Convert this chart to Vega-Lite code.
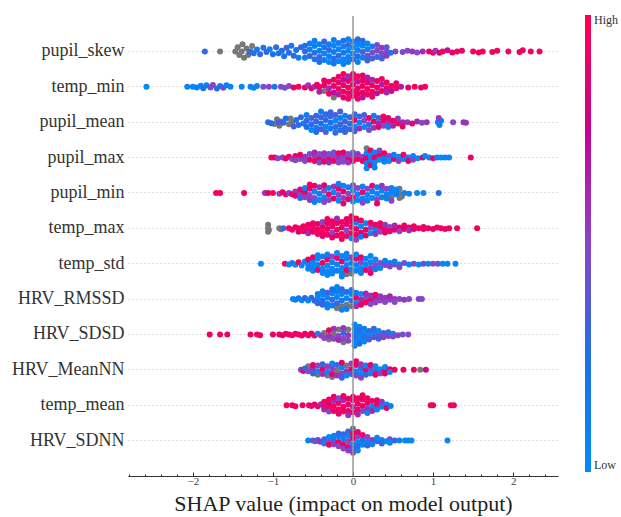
{
"$schema":"https://vega.github.io/schema/vega-lite/v6.json",
"width":430,"height":460,
"autosize":{"type":"none"},
"padding":{"left":128,"top":16,"right":63,"bottom":41},
"config":{"view":{"stroke":null},"font":"Liberation Serif","axisX":{"labelOverlap":false,"labelBound":false,"labelFlush":false}},
"data":{"values":[
{"f":"pupil_skew","x":-1.85,"j":0,"c":0.3},{"f":"pupil_skew","x":-1.66,"j":0,"c":null},
{"f":"pupil_skew","x":-1.47,"j":0,"c":null},{"f":"pupil_skew","x":-1.44,"j":-0.12,"c":null},{"f":"pupil_skew","x":-1.42,"j":0.1,"c":null},{"f":"pupil_skew","x":-1.39,"j":0,"c":null},{"f":"pupil_skew","x":-1.38,"j":-0.2,"c":null},{"f":"pupil_skew","x":-1.36,"j":0.18,"c":null},{"f":"pupil_skew","x":-1.33,"j":-0.08,"c":null},{"f":"pupil_skew","x":-1.31,"j":0.1,"c":null},{"f":"pupil_skew","x":-1.28,"j":0,"c":null},{"f":"pupil_skew","x":-1.26,"j":-0.15,"c":null},
{"f":"pupil_skew","x":-1.29,"j":0.02,"c":0.3},{"f":"pupil_skew","x":-1.24,"j":0.05,"c":0.25},{"f":"pupil_skew","x":-1.2,"j":-0.05,"c":0.2},{"f":"pupil_skew","x":-1.16,"j":0.08,"c":0.28},{"f":"pupil_skew","x":-1.12,"j":-0.1,"c":0.22},{"f":"pupil_skew","x":-1.08,"j":0.02,"c":0.3},{"f":"pupil_skew","x":-1.04,"j":-0.06,"c":0.1},{"f":"pupil_skew","x":-1.0,"j":0.08,"c":0.25},{"f":"pupil_skew","x":-0.96,"j":-0.12,"c":0.3},{"f":"pupil_skew","x":-0.93,"j":0.05,"c":0.18},{"f":"pupil_skew","x":-0.89,"j":-0.02,"c":0.27},{"f":"pupil_skew","x":-0.86,"j":0.14,"c":0.2},{"f":"pupil_skew","x":-0.83,"j":-0.1,"c":0.35},{"f":"pupil_skew","x":-0.8,"j":0.04,"c":0.24},{"f":"pupil_skew","x":-0.77,"j":-0.16,"c":0.15},{"f":"pupil_skew","x":-0.74,"j":0.12,"c":0.3},{"f":"pupil_skew","x":-0.71,"j":-0.04,"c":0.22},{"f":"pupil_skew","x":-0.68,"j":0.18,"c":0.12},{"f":"pupil_skew","x":-0.65,"j":-0.12,"c":0.32},
{"f":"pupil_skew","x":-0.6,"j":0,"c":0.3},{"f":"pupil_skew","x":-0.6,"j":0.18,"c":0.1},{"f":"pupil_skew","x":-0.6,"j":-0.16,"c":0.25},
{"f":"pupil_skew","x":-0.54,"j":-0.05,"c":0.08},{"f":"pupil_skew","x":-0.54,"j":0.13,"c":0.3},{"f":"pupil_skew","x":-0.54,"j":-0.22,"c":0.15},
{"f":"pupil_skew","x":-0.48,"j":0.04,"c":0.28},{"f":"pupil_skew","x":-0.48,"j":-0.15,"c":0.05},{"f":"pupil_skew","x":-0.48,"j":0.22,"c":0.2},{"f":"pupil_skew","x":-0.48,"j":-0.3,"c":0.12},
{"f":"pupil_skew","x":-0.42,"j":-0.02,"c":0.1},{"f":"pupil_skew","x":-0.42,"j":0.16,"c":0.32},{"f":"pupil_skew","x":-0.42,"j":-0.2,"c":0.08},{"f":"pupil_skew","x":-0.42,"j":0.3,"c":0.25},
{"f":"pupil_skew","x":-0.36,"j":0.06,"c":0.05},{"f":"pupil_skew","x":-0.36,"j":-0.12,"c":0.22},{"f":"pupil_skew","x":-0.36,"j":0.24,"c":0.12},{"f":"pupil_skew","x":-0.36,"j":-0.28,"c":0.3},
{"f":"pupil_skew","x":-0.3,"j":-0.04,"c":0.3},{"f":"pupil_skew","x":-0.3,"j":0.14,"c":0.08},{"f":"pupil_skew","x":-0.3,"j":-0.2,"c":0.15},{"f":"pupil_skew","x":-0.3,"j":0.3,"c":0.06},
{"f":"pupil_skew","x":-0.24,"j":0.02,"c":0.12},{"f":"pupil_skew","x":-0.24,"j":-0.16,"c":0.05},{"f":"pupil_skew","x":-0.24,"j":0.2,"c":0.28},{"f":"pupil_skew","x":-0.24,"j":-0.32,"c":0.1},{"f":"pupil_skew","x":-0.24,"j":0.34,"c":0.2},
{"f":"pupil_skew","x":-0.18,"j":-0.06,"c":0.07},{"f":"pupil_skew","x":-0.18,"j":0.12,"c":0.3},{"f":"pupil_skew","x":-0.18,"j":-0.24,"c":0.15},{"f":"pupil_skew","x":-0.18,"j":0.28,"c":0.05},
{"f":"pupil_skew","x":-0.12,"j":0.04,"c":0.2},{"f":"pupil_skew","x":-0.12,"j":-0.14,"c":0.1},{"f":"pupil_skew","x":-0.12,"j":0.22,"c":0.05},{"f":"pupil_skew","x":-0.12,"j":-0.3,"c":0.25},{"f":"pupil_skew","x":-0.12,"j":0.36,"c":0.08},
{"f":"pupil_skew","x":-0.06,"j":-0.02,"c":0.05},{"f":"pupil_skew","x":-0.06,"j":0.16,"c":0.15},{"f":"pupil_skew","x":-0.06,"j":-0.18,"c":0.3},{"f":"pupil_skew","x":-0.06,"j":0.3,"c":0.1},{"f":"pupil_skew","x":-0.06,"j":-0.34,"c":0.06},
{"f":"pupil_skew","x":0,"j":0.06,"c":0.1},{"f":"pupil_skew","x":0,"j":-0.12,"c":0.04},{"f":"pupil_skew","x":0,"j":0.22,"c":0.28},{"f":"pupil_skew","x":0,"j":-0.28,"c":0.12},
{"f":"pupil_skew","x":0.06,"j":-0.04,"c":0.08},{"f":"pupil_skew","x":0.06,"j":0.14,"c":0.22},{"f":"pupil_skew","x":0.06,"j":-0.2,"c":0.05},{"f":"pupil_skew","x":0.06,"j":0.3,"c":0.15},{"f":"pupil_skew","x":0.06,"j":-0.34,"c":0.3},
{"f":"pupil_skew","x":0.12,"j":0.02,"c":0.35},{"f":"pupil_skew","x":0.12,"j":-0.16,"c":0.06},{"f":"pupil_skew","x":0.12,"j":0.18,"c":0.12},{"f":"pupil_skew","x":0.12,"j":-0.3,"c":0.25},
{"f":"pupil_skew","x":0.18,"j":-0.06,"c":0.1},{"f":"pupil_skew","x":0.18,"j":0.12,"c":0.4},{"f":"pupil_skew","x":0.18,"j":-0.22,"c":0.05},{"f":"pupil_skew","x":0.18,"j":0.26,"c":0.3},
{"f":"pupil_skew","x":0.24,"j":0.04,"c":0.45},{"f":"pupil_skew","x":0.24,"j":-0.14,"c":0.15},{"f":"pupil_skew","x":0.24,"j":0.2,"c":0.38},
{"f":"pupil_skew","x":0.3,"j":-0.02,"c":0.5},{"f":"pupil_skew","x":0.3,"j":0.16,"c":0.3},{"f":"pupil_skew","x":0.3,"j":-0.18,"c":0.42},
{"f":"pupil_skew","x":0.36,"j":0.06,"c":0.45},{"f":"pupil_skew","x":0.36,"j":-0.1,"c":0.55},{"f":"pupil_skew","x":0.36,"j":0.2,"c":0.35},
{"f":"pupil_skew","x":0.42,"j":0,"c":0.5},{"f":"pupil_skew","x":0.42,"j":-0.12,"c":0.4},{"f":"pupil_skew","x":0.42,"j":0.12,"c":0.55},{"f":"pupil_skew","x":0.47,"j":0.04,"c":0.2},
{"f":"pupil_skew","x":0.53,"j":0,"c":0.5},{"f":"pupil_skew","x":0.62,"j":0.02,"c":0.45},{"f":"pupil_skew","x":0.68,"j":-0.02,"c":0.5},{"f":"pupil_skew","x":0.74,"j":0,"c":0.55},{"f":"pupil_skew","x":0.8,"j":0.03,"c":0.5},{"f":"pupil_skew","x":0.87,"j":0,"c":0.6},{"f":"pupil_skew","x":0.95,"j":0,"c":0.9},{"f":"pupil_skew","x":1.0,"j":0.04,"c":0.92},{"f":"pupil_skew","x":1.03,"j":-0.02,"c":0.55},{"f":"pupil_skew","x":1.08,"j":0.04,"c":0.85},{"f":"pupil_skew","x":1.12,"j":0,"c":0.95},{"f":"pupil_skew","x":1.18,"j":-0.03,"c":0.7},{"f":"pupil_skew","x":1.24,"j":0.03,"c":0.9},{"f":"pupil_skew","x":1.3,"j":0,"c":0.95},{"f":"pupil_skew","x":1.36,"j":-0.02,"c":0.88},{"f":"pupil_skew","x":1.5,"j":0,"c":0.95},{"f":"pupil_skew","x":1.57,"j":0.03,"c":0.9},{"f":"pupil_skew","x":1.62,"j":0,"c":0.95},{"f":"pupil_skew","x":1.74,"j":0.02,"c":0.92},{"f":"pupil_skew","x":1.8,"j":-0.02,"c":0.95},{"f":"pupil_skew","x":1.94,"j":0,"c":0.95},{"f":"pupil_skew","x":2.08,"j":0.02,"c":0.95},{"f":"pupil_skew","x":2.12,"j":-0.03,"c":0.92},{"f":"pupil_skew","x":2.22,"j":0,"c":0.95},{"f":"pupil_skew","x":2.33,"j":0,"c":0.95},

{"f":"temp_min","x":-2.58,"j":0,"c":0.02},
{"f":"temp_min","x":-2.07,"j":0,"c":0.05},{"f":"temp_min","x":-2.0,"j":0,"c":0.08},{"f":"temp_min","x":-1.95,"j":0.02,"c":0.1},{"f":"temp_min","x":-1.9,"j":-0.03,"c":0.05},{"f":"temp_min","x":-1.87,"j":0.04,"c":0.2},{"f":"temp_min","x":-1.83,"j":-0.04,"c":0.1},{"f":"temp_min","x":-1.78,"j":0.02,"c":0.45},{"f":"temp_min","x":-1.75,"j":-0.05,"c":0.5},{"f":"temp_min","x":-1.7,"j":0.05,"c":0.3},{"f":"temp_min","x":-1.66,"j":-0.02,"c":0.15},{"f":"temp_min","x":-1.62,"j":0.03,"c":0.45},{"f":"temp_min","x":-1.58,"j":-0.04,"c":0.1},{"f":"temp_min","x":-1.53,"j":0,"c":0.05},
{"f":"temp_min","x":-1.39,"j":0,"c":0.05},{"f":"temp_min","x":-1.28,"j":0,"c":0.1},{"f":"temp_min","x":-1.24,"j":0.03,"c":0.05},{"f":"temp_min","x":-1.2,"j":-0.02,"c":0.1},{"f":"temp_min","x":-1.12,"j":0,"c":0.45},{"f":"temp_min","x":-1.05,"j":0,"c":0.5},{"f":"temp_min","x":-0.98,"j":0,"c":0.2},{"f":"temp_min","x":-0.9,"j":0,"c":0.5},{"f":"temp_min","x":-0.85,"j":0.03,"c":0.45},{"f":"temp_min","x":-0.8,"j":-0.02,"c":0.5},{"f":"temp_min","x":-0.74,"j":0.02,"c":0.9},{"f":"temp_min","x":-0.68,"j":0,"c":0.95},
{"f":"temp_min","x":-0.6,"j":0.02,"c":0.9},{"f":"temp_min","x":-0.56,"j":-0.04,"c":0.55},{"f":"temp_min","x":-0.52,"j":0.04,"c":0.92},{"f":"temp_min","x":-0.48,"j":0,"c":0.6},{"f":"temp_min","x":-0.45,"j":-0.06,"c":0.95},
{"f":"temp_min","x":-0.42,"j":0,"c":0.9},{"f":"temp_min","x":-0.42,"j":0.14,"c":0.65},
{"f":"temp_min","x":-0.36,"j":-0.04,"c":0.95},{"f":"temp_min","x":-0.36,"j":0.12,"c":null},{"f":"temp_min","x":-0.36,"j":-0.18,"c":0.9},
{"f":"temp_min","x":-0.3,"j":0.04,"c":0.6},{"f":"temp_min","x":-0.3,"j":-0.14,"c":0.92},{"f":"temp_min","x":-0.3,"j":0.2,"c":0.95},
{"f":"temp_min","x":-0.24,"j":-0.02,"c":0.9},{"f":"temp_min","x":-0.24,"j":0.16,"c":0.7},{"f":"temp_min","x":-0.24,"j":-0.2,"c":0.95},{"f":"temp_min","x":-0.24,"j":0.3,"c":null},
{"f":"temp_min","x":-0.18,"j":0.06,"c":0.95},{"f":"temp_min","x":-0.18,"j":-0.12,"c":0.88},{"f":"temp_min","x":-0.18,"j":0.22,"c":0.65},{"f":"temp_min","x":-0.18,"j":-0.28,"c":0.92},
{"f":"temp_min","x":-0.12,"j":-0.04,"c":0.92},{"f":"temp_min","x":-0.12,"j":0.14,"c":0.95},{"f":"temp_min","x":-0.12,"j":-0.2,"c":0.7},{"f":"temp_min","x":-0.12,"j":0.3,"c":0.9},{"f":"temp_min","x":-0.12,"j":-0.36,"c":0.95},
{"f":"temp_min","x":-0.06,"j":0.02,"c":0.95},{"f":"temp_min","x":-0.06,"j":-0.16,"c":0.9},{"f":"temp_min","x":-0.06,"j":0.18,"c":0.92},{"f":"temp_min","x":-0.06,"j":-0.3,"c":0.6},{"f":"temp_min","x":-0.06,"j":0.34,"c":0.95},
{"f":"temp_min","x":0,"j":-0.06,"c":0.9},{"f":"temp_min","x":0,"j":0.12,"c":0.95},{"f":"temp_min","x":0,"j":-0.22,"c":0.92},{"f":"temp_min","x":0,"j":0.26,"c":0.88},{"f":"temp_min","x":0,"j":-0.36,"c":0.95},
{"f":"temp_min","x":0.06,"j":0.04,"c":0.95},{"f":"temp_min","x":0.06,"j":-0.14,"c":0.65},{"f":"temp_min","x":0.06,"j":0.2,"c":0.9},{"f":"temp_min","x":0.06,"j":-0.3,"c":0.95},{"f":"temp_min","x":0.06,"j":0.34,"c":0.92},
{"f":"temp_min","x":0.12,"j":-0.02,"c":0.92},{"f":"temp_min","x":0.12,"j":0.16,"c":0.9},{"f":"temp_min","x":0.12,"j":-0.18,"c":0.95},{"f":"temp_min","x":0.12,"j":0.3,"c":0.7},{"f":"temp_min","x":0.12,"j":-0.32,"c":0.9},
{"f":"temp_min","x":0.18,"j":0.06,"c":0.95},{"f":"temp_min","x":0.18,"j":-0.12,"c":0.88},{"f":"temp_min","x":0.18,"j":0.22,"c":0.92},{"f":"temp_min","x":0.18,"j":-0.26,"c":0.65},
{"f":"temp_min","x":0.24,"j":-0.04,"c":0.9},{"f":"temp_min","x":0.24,"j":0.14,"c":0.95},{"f":"temp_min","x":0.24,"j":-0.2,"c":0.6},{"f":"temp_min","x":0.24,"j":0.28,"c":0.92},
{"f":"temp_min","x":0.3,"j":0.02,"c":0.95},{"f":"temp_min","x":0.3,"j":-0.16,"c":0.9},{"f":"temp_min","x":0.3,"j":0.18,"c":0.7},
{"f":"temp_min","x":0.36,"j":-0.06,"c":0.65},{"f":"temp_min","x":0.36,"j":0.12,"c":0.92},{"f":"temp_min","x":0.36,"j":-0.22,"c":0.95},
{"f":"temp_min","x":0.42,"j":0.04,"c":0.9},{"f":"temp_min","x":0.42,"j":-0.12,"c":0.95},{"f":"temp_min","x":0.42,"j":0.16,"c":0.6},
{"f":"temp_min","x":0.48,"j":-0.02,"c":0.92},{"f":"temp_min","x":0.48,"j":0.12,"c":0.7},{"f":"temp_min","x":0.54,"j":0.04,"c":0.95},{"f":"temp_min","x":0.54,"j":-0.1,"c":0.9},{"f":"temp_min","x":0.6,"j":0,"c":0.65},
{"f":"temp_min","x":0.69,"j":0.02,"c":0.9},{"f":"temp_min","x":0.77,"j":0,"c":0.95},{"f":"temp_min","x":0.85,"j":0.02,"c":0.9},{"f":"temp_min","x":0.9,"j":0,"c":0.95},

{"f":"pupil_mean","x":-1.06,"j":0,"c":0.3},{"f":"pupil_mean","x":-1.02,"j":0.03,"c":0.25},
{"f":"pupil_mean","x":-0.98,"j":0.05,"c":null},{"f":"pupil_mean","x":-0.95,"j":-0.08,"c":null},{"f":"pupil_mean","x":-0.92,"j":0.1,"c":null},{"f":"pupil_mean","x":-0.9,"j":-0.02,"c":null},{"f":"pupil_mean","x":-0.8,"j":0.06,"c":null},{"f":"pupil_mean","x":-0.78,"j":-0.1,"c":null},{"f":"pupil_mean","x":-0.76,"j":0.02,"c":null},
{"f":"pupil_mean","x":-0.93,"j":0,"c":0.35},{"f":"pupil_mean","x":-0.87,"j":0.02,"c":0.3},{"f":"pupil_mean","x":-0.84,"j":-0.1,"c":0.25},{"f":"pupil_mean","x":-0.74,"j":0.12,"c":0.3},{"f":"pupil_mean","x":-0.71,"j":-0.06,"c":0.2},{"f":"pupil_mean","x":-0.68,"j":0.08,"c":0.32},{"f":"pupil_mean","x":-0.65,"j":-0.14,"c":0.28},{"f":"pupil_mean","x":-0.62,"j":0.04,"c":0.1},
{"f":"pupil_mean","x":-0.58,"j":-0.04,"c":0.3},{"f":"pupil_mean","x":-0.58,"j":0.14,"c":0.25},{"f":"pupil_mean","x":-0.58,"j":-0.2,"c":0.1},
{"f":"pupil_mean","x":-0.52,"j":0.06,"c":0.28},{"f":"pupil_mean","x":-0.52,"j":-0.12,"c":0.35},{"f":"pupil_mean","x":-0.52,"j":0.22,"c":0.05},
{"f":"pupil_mean","x":-0.46,"j":-0.02,"c":0.32},{"f":"pupil_mean","x":-0.46,"j":0.16,"c":0.1},{"f":"pupil_mean","x":-0.46,"j":-0.18,"c":0.3},{"f":"pupil_mean","x":-0.46,"j":0.28,"c":0.25},
{"f":"pupil_mean","x":-0.4,"j":0.04,"c":0.22},{"f":"pupil_mean","x":-0.4,"j":-0.14,"c":0.3},{"f":"pupil_mean","x":-0.4,"j":0.2,"c":0.35},{"f":"pupil_mean","x":-0.4,"j":-0.3,"c":0.08},
{"f":"pupil_mean","x":-0.34,"j":-0.06,"c":0.3},{"f":"pupil_mean","x":-0.34,"j":0.12,"c":0.05},{"f":"pupil_mean","x":-0.34,"j":-0.22,"c":0.28},{"f":"pupil_mean","x":-0.34,"j":0.28,"c":0.35},
{"f":"pupil_mean","x":-0.28,"j":0.02,"c":0.25},{"f":"pupil_mean","x":-0.28,"j":-0.16,"c":0.32},{"f":"pupil_mean","x":-0.28,"j":0.18,"c":0.1},{"f":"pupil_mean","x":-0.28,"j":-0.28,"c":0.3},
{"f":"pupil_mean","x":-0.22,"j":-0.04,"c":0.05},{"f":"pupil_mean","x":-0.22,"j":0.14,"c":0.3},{"f":"pupil_mean","x":-0.22,"j":-0.2,"c":0.35},{"f":"pupil_mean","x":-0.22,"j":0.3,"c":0.28},
{"f":"pupil_mean","x":-0.16,"j":0.06,"c":0.3},{"f":"pupil_mean","x":-0.16,"j":-0.12,"c":0.1},{"f":"pupil_mean","x":-0.16,"j":0.22,"c":0.25},{"f":"pupil_mean","x":-0.16,"j":-0.3,"c":0.35},
{"f":"pupil_mean","x":-0.1,"j":-0.02,"c":0.35},{"f":"pupil_mean","x":-0.1,"j":0.16,"c":0.28},{"f":"pupil_mean","x":-0.1,"j":-0.18,"c":0.05},{"f":"pupil_mean","x":-0.1,"j":0.28,"c":0.3},
{"f":"pupil_mean","x":-0.04,"j":0.04,"c":0.2},{"f":"pupil_mean","x":-0.04,"j":-0.14,"c":0.32},{"f":"pupil_mean","x":-0.04,"j":0.2,"c":0.3},
{"f":"pupil_mean","x":0.02,"j":-0.06,"c":0.9},{"f":"pupil_mean","x":0.02,"j":0.12,"c":0.05},{"f":"pupil_mean","x":0.02,"j":-0.22,"c":0.3},{"f":"pupil_mean","x":0.02,"j":0.26,"c":0.35},
{"f":"pupil_mean","x":0.08,"j":0.02,"c":0.1},{"f":"pupil_mean","x":0.08,"j":-0.16,"c":0.3},{"f":"pupil_mean","x":0.08,"j":0.18,"c":0.6},
{"f":"pupil_mean","x":0.14,"j":-0.04,"c":0.5},{"f":"pupil_mean","x":0.14,"j":0.14,"c":0.05},{"f":"pupil_mean","x":0.14,"j":-0.2,"c":0.35},
{"f":"pupil_mean","x":0.2,"j":0.06,"c":0.3},{"f":"pupil_mean","x":0.2,"j":-0.12,"c":0.9},{"f":"pupil_mean","x":0.2,"j":0.22,"c":0.45},
{"f":"pupil_mean","x":0.26,"j":-0.02,"c":0.92},{"f":"pupil_mean","x":0.26,"j":0.16,"c":0.55},{"f":"pupil_mean","x":0.26,"j":-0.18,"c":0.1},
{"f":"pupil_mean","x":0.32,"j":0.04,"c":0.6},{"f":"pupil_mean","x":0.32,"j":-0.12,"c":0.3},{"f":"pupil_mean","x":0.32,"j":0.14,"c":0.9},
{"f":"pupil_mean","x":0.38,"j":-0.04,"c":0.9},{"f":"pupil_mean","x":0.38,"j":0.1,"c":0.5},{"f":"pupil_mean","x":0.38,"j":-0.16,"c":0.95},
{"f":"pupil_mean","x":0.44,"j":0.02,"c":0.55},{"f":"pupil_mean","x":0.44,"j":-0.12,"c":0.92},{"f":"pupil_mean","x":0.44,"j":0.14,"c":0.1},
{"f":"pupil_mean","x":0.5,"j":-0.04,"c":0.9},{"f":"pupil_mean","x":0.5,"j":0.1,"c":0.6},{"f":"pupil_mean","x":0.56,"j":0.04,"c":0.95},{"f":"pupil_mean","x":0.56,"j":-0.1,"c":0.55},{"f":"pupil_mean","x":0.62,"j":0,"c":0.6},{"f":"pupil_mean","x":0.62,"j":0.12,"c":0.9},
{"f":"pupil_mean","x":0.68,"j":0,"c":0.55},{"f":"pupil_mean","x":0.74,"j":0.04,"c":0.9},{"f":"pupil_mean","x":0.8,"j":-0.02,"c":0.6},{"f":"pupil_mean","x":0.86,"j":0.02,"c":0.5},{"f":"pupil_mean","x":0.92,"j":0,"c":0.55},{"f":"pupil_mean","x":1.06,"j":0,"c":0.05},{"f":"pupil_mean","x":1.08,"j":0.08,"c":0.1},{"f":"pupil_mean","x":1.1,"j":-0.04,"c":0.12},{"f":"pupil_mean","x":1.07,"j":-0.12,"c":0.55},{"f":"pupil_mean","x":1.25,"j":0,"c":0.5},{"f":"pupil_mean","x":1.38,"j":0,"c":0.6},{"f":"pupil_mean","x":1.41,"j":0.02,"c":0.55},

{"f":"pupil_max","x":-1.02,"j":0,"c":0.95},{"f":"pupil_max","x":-0.98,"j":0,"c":0.92},{"f":"pupil_max","x":-0.94,"j":0.02,"c":0.5},{"f":"pupil_max","x":-0.88,"j":0,"c":0.5},{"f":"pupil_max","x":-0.84,"j":0.03,"c":0.9},{"f":"pupil_max","x":-0.8,"j":-0.02,"c":0.95},{"f":"pupil_max","x":-0.76,"j":0.04,"c":0.5},
{"f":"pupil_max","x":-0.72,"j":-0.04,"c":0.92},{"f":"pupil_max","x":-0.72,"j":0.08,"c":0.5},
{"f":"pupil_max","x":-0.66,"j":0.04,"c":0.45},{"f":"pupil_max","x":-0.66,"j":-0.08,"c":0.95},
{"f":"pupil_max","x":-0.6,"j":-0.02,"c":0.55},{"f":"pupil_max","x":-0.6,"j":0.1,"c":0.5},
{"f":"pupil_max","x":-0.54,"j":0.06,"c":0.9},{"f":"pupil_max","x":-0.54,"j":-0.1,"c":0.45},
{"f":"pupil_max","x":-0.48,"j":-0.04,"c":0.5},{"f":"pupil_max","x":-0.48,"j":0.1,"c":0.95},{"f":"pupil_max","x":-0.48,"j":-0.14,"c":0.6},
{"f":"pupil_max","x":-0.42,"j":0.04,"c":0.9},{"f":"pupil_max","x":-0.42,"j":-0.1,"c":0.5},{"f":"pupil_max","x":-0.42,"j":0.14,"c":0.45},
{"f":"pupil_max","x":-0.36,"j":-0.02,"c":0.5},{"f":"pupil_max","x":-0.36,"j":0.12,"c":0.9},{"f":"pupil_max","x":-0.36,"j":-0.12,"c":0.55},
{"f":"pupil_max","x":-0.3,"j":0.04,"c":0.92},{"f":"pupil_max","x":-0.3,"j":-0.1,"c":0.45},{"f":"pupil_max","x":-0.3,"j":0.14,"c":0.6},
{"f":"pupil_max","x":-0.24,"j":-0.04,"c":0.5},{"f":"pupil_max","x":-0.24,"j":0.1,"c":0.95},{"f":"pupil_max","x":-0.24,"j":-0.14,"c":0.45},
{"f":"pupil_max","x":-0.18,"j":0.02,"c":0.55},{"f":"pupil_max","x":-0.18,"j":-0.12,"c":0.9},{"f":"pupil_max","x":-0.18,"j":0.14,"c":0.5},
{"f":"pupil_max","x":-0.12,"j":-0.02,"c":0.45},{"f":"pupil_max","x":-0.12,"j":0.12,"c":0.5},{"f":"pupil_max","x":-0.12,"j":-0.14,"c":0.92},
{"f":"pupil_max","x":-0.06,"j":0.04,"c":0.9},{"f":"pupil_max","x":-0.06,"j":-0.1,"c":0.5},{"f":"pupil_max","x":-0.06,"j":0.14,"c":0.55},
{"f":"pupil_max","x":0,"j":-0.04,"c":0.5},{"f":"pupil_max","x":0,"j":0.1,"c":0.92},{"f":"pupil_max","x":0,"j":-0.14,"c":0.45},
{"f":"pupil_max","x":0.06,"j":0.04,"c":0.95},{"f":"pupil_max","x":0.06,"j":-0.1,"c":0.55},{"f":"pupil_max","x":0.12,"j":-0.02,"c":0.5},{"f":"pupil_max","x":0.12,"j":0.1,"c":0.9},
{"f":"pupil_max","x":0.17,"j":-0.26,"c":null},{"f":"pupil_max","x":0.17,"j":-0.12,"c":0.05},{"f":"pupil_max","x":0.17,"j":0.02,"c":0.9},{"f":"pupil_max","x":0.17,"j":0.16,"c":0.1},{"f":"pupil_max","x":0.17,"j":0.3,"c":0.05},
{"f":"pupil_max","x":0.22,"j":-0.2,"c":0.95},{"f":"pupil_max","x":0.22,"j":-0.06,"c":0.05},{"f":"pupil_max","x":0.22,"j":0.08,"c":0.1},{"f":"pupil_max","x":0.22,"j":0.22,"c":0.9},
{"f":"pupil_max","x":0.27,"j":-0.14,"c":0.05},{"f":"pupil_max","x":0.27,"j":0,"c":0.92},{"f":"pupil_max","x":0.27,"j":0.14,"c":0.05},{"f":"pupil_max","x":0.27,"j":0.28,"c":0.1},
{"f":"pupil_max","x":0.33,"j":-0.08,"c":0.9},{"f":"pupil_max","x":0.33,"j":0.06,"c":0.05},{"f":"pupil_max","x":0.33,"j":-0.2,"c":0.5},
{"f":"pupil_max","x":0.39,"j":0.02,"c":0.1},{"f":"pupil_max","x":0.39,"j":-0.12,"c":0.95},{"f":"pupil_max","x":0.39,"j":0.12,"c":0.05},
{"f":"pupil_max","x":0.45,"j":-0.04,"c":0.5},{"f":"pupil_max","x":0.45,"j":0.1,"c":0.05},{"f":"pupil_max","x":0.51,"j":0.04,"c":0.9},{"f":"pupil_max","x":0.51,"j":-0.08,"c":0.1},
{"f":"pupil_max","x":0.57,"j":-0.02,"c":0.05},{"f":"pupil_max","x":0.57,"j":0.1,"c":0.5},{"f":"pupil_max","x":0.63,"j":0.04,"c":0.05},{"f":"pupil_max","x":0.63,"j":-0.08,"c":0.95},
{"f":"pupil_max","x":0.69,"j":0,"c":0.1},{"f":"pupil_max","x":0.69,"j":0.1,"c":0.9},{"f":"pupil_max","x":0.75,"j":-0.04,"c":0.05},{"f":"pupil_max","x":0.75,"j":0.06,"c":0.5},
{"f":"pupil_max","x":0.81,"j":0.02,"c":0.05},{"f":"pupil_max","x":0.87,"j":0,"c":0.9},{"f":"pupil_max","x":0.9,"j":-0.04,"c":0.05},
{"f":"pupil_max","x":0.95,"j":0,"c":0.05},{"f":"pupil_max","x":1.0,"j":0.02,"c":0.92},{"f":"pupil_max","x":1.05,"j":0,"c":0.1},{"f":"pupil_max","x":1.1,"j":0,"c":0.05},{"f":"pupil_max","x":1.15,"j":0,"c":0.1},{"f":"pupil_max","x":1.2,"j":0,"c":0.05},{"f":"pupil_max","x":1.47,"j":0,"c":0.92},

{"f":"pupil_min","x":-1.71,"j":0,"c":0.95},{"f":"pupil_min","x":-1.66,"j":0,"c":0.95},{"f":"pupil_min","x":-1.36,"j":0,"c":0.92},{"f":"pupil_min","x":-1.1,"j":0,"c":0.55},{"f":"pupil_min","x":-1.06,"j":0,"c":0.9},{"f":"pupil_min","x":-1.0,"j":0,"c":0.95},{"f":"pupil_min","x":-0.92,"j":0.02,"c":0.5},{"f":"pupil_min","x":-0.88,"j":-0.02,"c":0.92},{"f":"pupil_min","x":-0.84,"j":0.04,"c":0.95},{"f":"pupil_min","x":-0.8,"j":0,"c":0.5},{"f":"pupil_min","x":-0.76,"j":0.04,"c":0.9},
{"f":"pupil_min","x":-0.72,"j":-0.04,"c":0.55},{"f":"pupil_min","x":-0.72,"j":0.08,"c":0.9},
{"f":"pupil_min","x":-0.66,"j":0.04,"c":0.5},{"f":"pupil_min","x":-0.66,"j":-0.1,"c":0.92},{"f":"pupil_min","x":-0.66,"j":0.14,"c":0.2},
{"f":"pupil_min","x":-0.6,"j":-0.02,"c":0.9},{"f":"pupil_min","x":-0.6,"j":0.12,"c":0.5},{"f":"pupil_min","x":-0.6,"j":-0.14,"c":0.05},
{"f":"pupil_min","x":-0.54,"j":0.06,"c":0.5},{"f":"pupil_min","x":-0.54,"j":-0.12,"c":0.9},{"f":"pupil_min","x":-0.54,"j":0.2,"c":0.55},{"f":"pupil_min","x":-0.54,"j":-0.24,"c":0.95},
{"f":"pupil_min","x":-0.48,"j":-0.04,"c":0.05},{"f":"pupil_min","x":-0.48,"j":0.14,"c":0.5},{"f":"pupil_min","x":-0.48,"j":-0.2,"c":0.9},{"f":"pupil_min","x":-0.48,"j":0.26,"c":0.1},
{"f":"pupil_min","x":-0.42,"j":0.02,"c":0.1},{"f":"pupil_min","x":-0.42,"j":-0.16,"c":0.55},{"f":"pupil_min","x":-0.42,"j":0.2,"c":0.05},
{"f":"pupil_min","x":-0.36,"j":-0.06,"c":0.5},{"f":"pupil_min","x":-0.36,"j":0.12,"c":0.05},{"f":"pupil_min","x":-0.36,"j":-0.22,"c":0.9},{"f":"pupil_min","x":-0.36,"j":0.26,"c":0.5},
{"f":"pupil_min","x":-0.3,"j":0.04,"c":0.92},{"f":"pupil_min","x":-0.3,"j":-0.14,"c":0.1},{"f":"pupil_min","x":-0.3,"j":0.2,"c":0.5},
{"f":"pupil_min","x":-0.24,"j":-0.02,"c":0.05},{"f":"pupil_min","x":-0.24,"j":0.16,"c":0.9},{"f":"pupil_min","x":-0.24,"j":-0.18,"c":0.55},
{"f":"pupil_min","x":-0.18,"j":0.06,"c":0.5},{"f":"pupil_min","x":-0.18,"j":-0.12,"c":0.92},{"f":"pupil_min","x":-0.18,"j":0.22,"c":0.05},{"f":"pupil_min","x":-0.18,"j":-0.26,"c":0.1},
{"f":"pupil_min","x":-0.12,"j":-0.04,"c":0.9},{"f":"pupil_min","x":-0.12,"j":0.14,"c":0.5},{"f":"pupil_min","x":-0.12,"j":-0.2,"c":0.05},{"f":"pupil_min","x":-0.12,"j":0.3,"c":0.92},
{"f":"pupil_min","x":-0.06,"j":0.02,"c":0.5},{"f":"pupil_min","x":-0.06,"j":-0.16,"c":0.1},{"f":"pupil_min","x":-0.06,"j":0.18,"c":0.9},
{"f":"pupil_min","x":0,"j":-0.06,"c":0.05},{"f":"pupil_min","x":0,"j":0.12,"c":0.95},{"f":"pupil_min","x":0,"j":-0.22,"c":0.5},{"f":"pupil_min","x":0,"j":0.24,"c":0.05},
{"f":"pupil_min","x":0.06,"j":0.04,"c":0.1},{"f":"pupil_min","x":0.06,"j":-0.14,"c":0.5},{"f":"pupil_min","x":0.06,"j":0.2,"c":0.05},
{"f":"pupil_min","x":0.12,"j":-0.02,"c":0.9},{"f":"pupil_min","x":0.12,"j":0.16,"c":0.05},{"f":"pupil_min","x":0.12,"j":-0.18,"c":0.1},{"f":"pupil_min","x":0.12,"j":0.28,"c":0.5},
{"f":"pupil_min","x":0.18,"j":0.06,"c":0.05},{"f":"pupil_min","x":0.18,"j":-0.12,"c":0.5},{"f":"pupil_min","x":0.18,"j":0.22,"c":0.1},
{"f":"pupil_min","x":0.24,"j":-0.04,"c":0.1},{"f":"pupil_min","x":0.24,"j":0.14,"c":0.05},{"f":"pupil_min","x":0.24,"j":-0.2,"c":0.9},
{"f":"pupil_min","x":0.3,"j":0.02,"c":0.05},{"f":"pupil_min","x":0.3,"j":-0.16,"c":0.1},{"f":"pupil_min","x":0.3,"j":0.18,"c":0.5},{"f":"pupil_min","x":0.3,"j":0.3,"c":0.9},
{"f":"pupil_min","x":0.36,"j":-0.06,"c":0.05},{"f":"pupil_min","x":0.36,"j":0.12,"c":0.1},{"f":"pupil_min","x":0.36,"j":-0.2,"c":0.55},
{"f":"pupil_min","x":0.42,"j":0.04,"c":0.05},{"f":"pupil_min","x":0.42,"j":-0.12,"c":0.5},{"f":"pupil_min","x":0.42,"j":0.16,"c":0.1},
{"f":"pupil_min","x":0.48,"j":-0.02,"c":0.05},{"f":"pupil_min","x":0.48,"j":0.12,"c":null},{"f":"pupil_min","x":0.48,"j":-0.14,"c":0.1},{"f":"pupil_min","x":0.48,"j":0.22,"c":0.5},
{"f":"pupil_min","x":0.54,"j":0.04,"c":0.1},{"f":"pupil_min","x":0.54,"j":-0.1,"c":0.05},{"f":"pupil_min","x":0.58,"j":-0.12,"c":null},{"f":"pupil_min","x":0.58,"j":0.02,"c":null},{"f":"pupil_min","x":0.58,"j":0.14,"c":null},{"f":"pupil_min","x":0.61,"j":0.1,"c":null},
{"f":"pupil_min","x":0.64,"j":0,"c":0.05},{"f":"pupil_min","x":0.7,"j":0.02,"c":0.1},{"f":"pupil_min","x":0.8,"j":0,"c":0.05},{"f":"pupil_min","x":0.88,"j":0,"c":0.05},{"f":"pupil_min","x":1.07,"j":0,"c":0.25},

{"f":"temp_max","x":-1.06,"j":-0.1,"c":null},{"f":"temp_max","x":-1.06,"j":0,"c":null},{"f":"temp_max","x":-1.06,"j":0.1,"c":null},{"f":"temp_max","x":-1.05,"j":0.05,"c":null},{"f":"temp_max","x":-0.92,"j":0,"c":null},{"f":"temp_max","x":-0.9,"j":0.03,"c":null},
{"f":"temp_max","x":-0.87,"j":0,"c":0.3},{"f":"temp_max","x":-0.8,"j":0,"c":0.92},{"f":"temp_max","x":-0.76,"j":0.04,"c":0.95},{"f":"temp_max","x":-0.72,"j":-0.03,"c":0.9},
{"f":"temp_max","x":-0.68,"j":0,"c":0.95},{"f":"temp_max","x":-0.68,"j":0.1,"c":0.9},
{"f":"temp_max","x":-0.62,"j":-0.06,"c":0.92},{"f":"temp_max","x":-0.62,"j":0.08,"c":0.95},
{"f":"temp_max","x":-0.56,"j":0.04,"c":0.9},{"f":"temp_max","x":-0.56,"j":-0.1,"c":0.95},{"f":"temp_max","x":-0.56,"j":0.14,"c":0.6},
{"f":"temp_max","x":-0.5,"j":-0.04,"c":0.95},{"f":"temp_max","x":-0.5,"j":0.1,"c":0.92},{"f":"temp_max","x":-0.5,"j":-0.14,"c":0.9},
{"f":"temp_max","x":-0.44,"j":0.04,"c":0.95},{"f":"temp_max","x":-0.44,"j":-0.12,"c":0.9},{"f":"temp_max","x":-0.44,"j":0.16,"c":0.95},
{"f":"temp_max","x":-0.38,"j":-0.04,"c":0.92},{"f":"temp_max","x":-0.38,"j":0.12,"c":0.95},{"f":"temp_max","x":-0.38,"j":-0.18,"c":0.5},{"f":"temp_max","x":-0.38,"j":0.22,"c":0.9},
{"f":"temp_max","x":-0.32,"j":0.02,"c":0.95},{"f":"temp_max","x":-0.32,"j":-0.14,"c":0.9},{"f":"temp_max","x":-0.32,"j":0.18,"c":0.92},{"f":"temp_max","x":-0.32,"j":-0.26,"c":0.95},
{"f":"temp_max","x":-0.26,"j":-0.06,"c":0.9},{"f":"temp_max","x":-0.26,"j":0.12,"c":0.5},{"f":"temp_max","x":-0.26,"j":-0.2,"c":0.95},{"f":"temp_max","x":-0.26,"j":0.26,"c":0.92},
{"f":"temp_max","x":-0.2,"j":0.04,"c":0.95},{"f":"temp_max","x":-0.2,"j":-0.14,"c":0.92},{"f":"temp_max","x":-0.2,"j":0.2,"c":0.9},{"f":"temp_max","x":-0.2,"j":-0.28,"c":0.6},
{"f":"temp_max","x":-0.14,"j":-0.02,"c":0.9},{"f":"temp_max","x":-0.14,"j":0.16,"c":0.95},{"f":"temp_max","x":-0.14,"j":-0.18,"c":0.92},{"f":"temp_max","x":-0.14,"j":0.3,"c":0.95},
{"f":"temp_max","x":-0.08,"j":0.06,"c":0.5},{"f":"temp_max","x":-0.08,"j":-0.12,"c":0.9},{"f":"temp_max","x":-0.08,"j":0.22,"c":0.95},{"f":"temp_max","x":-0.08,"j":-0.26,"c":0.92},
{"f":"temp_max","x":-0.02,"j":-0.04,"c":0.95},{"f":"temp_max","x":-0.02,"j":0.14,"c":0.92},{"f":"temp_max","x":-0.02,"j":-0.2,"c":0.9},{"f":"temp_max","x":-0.02,"j":0.28,"c":0.05},{"f":"temp_max","x":-0.02,"j":-0.34,"c":0.95},
{"f":"temp_max","x":0.04,"j":0.02,"c":0.9},{"f":"temp_max","x":0.04,"j":-0.16,"c":0.05},{"f":"temp_max","x":0.04,"j":0.18,"c":0.95},{"f":"temp_max","x":0.04,"j":-0.28,"c":0.92},{"f":"temp_max","x":0.04,"j":0.32,"c":0.5},
{"f":"temp_max","x":0.1,"j":-0.06,"c":0.05},{"f":"temp_max","x":0.1,"j":0.12,"c":0.9},{"f":"temp_max","x":0.1,"j":-0.22,"c":0.95},{"f":"temp_max","x":0.1,"j":0.24,"c":0.1},
{"f":"temp_max","x":0.16,"j":0.04,"c":0.92},{"f":"temp_max","x":0.16,"j":-0.14,"c":0.05},{"f":"temp_max","x":0.16,"j":0.2,"c":0.9},
{"f":"temp_max","x":0.22,"j":-0.02,"c":0.5},{"f":"temp_max","x":0.22,"j":0.14,"c":0.05},{"f":"temp_max","x":0.22,"j":-0.16,"c":0.95},
{"f":"temp_max","x":0.28,"j":0.04,"c":0.05},{"f":"temp_max","x":0.28,"j":-0.1,"c":0.92},{"f":"temp_max","x":0.28,"j":0.16,"c":0.55},
{"f":"temp_max","x":0.34,"j":-0.04,"c":0.9},{"f":"temp_max","x":0.34,"j":0.1,"c":0.5},{"f":"temp_max","x":0.34,"j":-0.14,"c":0.95},
{"f":"temp_max","x":0.4,"j":0.02,"c":0.92},{"f":"temp_max","x":0.4,"j":-0.1,"c":0.55},{"f":"temp_max","x":0.4,"j":0.12,"c":0.9},
{"f":"temp_max","x":0.46,"j":-0.04,"c":0.5},{"f":"temp_max","x":0.46,"j":0.08,"c":0.95},{"f":"temp_max","x":0.52,"j":0.04,"c":0.9},{"f":"temp_max","x":0.52,"j":-0.08,"c":0.6},
{"f":"temp_max","x":0.58,"j":-0.02,"c":0.95},{"f":"temp_max","x":0.58,"j":0.08,"c":0.5},{"f":"temp_max","x":0.64,"j":0.02,"c":0.92},{"f":"temp_max","x":0.64,"j":-0.08,"c":0.9},
{"f":"temp_max","x":0.7,"j":-0.02,"c":0.95},{"f":"temp_max","x":0.7,"j":0.06,"c":0.55},{"f":"temp_max","x":0.76,"j":0.02,"c":0.9},{"f":"temp_max","x":0.76,"j":-0.06,"c":0.95},
{"f":"temp_max","x":0.82,"j":0,"c":0.92},{"f":"temp_max","x":0.88,"j":0.02,"c":0.95},{"f":"temp_max","x":0.88,"j":-0.04,"c":0.9},
{"f":"temp_max","x":0.94,"j":0,"c":0.92},{"f":"temp_max","x":1.0,"j":0.02,"c":0.95},{"f":"temp_max","x":1.05,"j":-0.02,"c":0.9},{"f":"temp_max","x":1.1,"j":0,"c":0.95},{"f":"temp_max","x":1.15,"j":0.02,"c":0.92},{"f":"temp_max","x":1.2,"j":0,"c":0.95},{"f":"temp_max","x":1.3,"j":0,"c":0.95},{"f":"temp_max","x":1.55,"j":0,"c":0.95},

{"f":"temp_std","x":-1.15,"j":0,"c":0.05},{"f":"temp_std","x":-0.85,"j":0,"c":0.95},{"f":"temp_std","x":-0.8,"j":0.02,"c":0.05},{"f":"temp_std","x":-0.76,"j":-0.02,"c":0.1},{"f":"temp_std","x":-0.72,"j":0.03,"c":0.05},{"f":"temp_std","x":-0.68,"j":-0.04,"c":0.95},{"f":"temp_std","x":-0.64,"j":0.05,"c":0.05},{"f":"temp_std","x":-0.6,"j":-0.06,"c":0.1},
{"f":"temp_std","x":-0.56,"j":0.02,"c":0.05},{"f":"temp_std","x":-0.56,"j":-0.12,"c":0.9},{"f":"temp_std","x":-0.56,"j":0.14,"c":0.1},
{"f":"temp_std","x":-0.5,"j":-0.04,"c":0.05},{"f":"temp_std","x":-0.5,"j":0.1,"c":0.1},{"f":"temp_std","x":-0.5,"j":-0.18,"c":0.92},{"f":"temp_std","x":-0.5,"j":0.2,"c":0.05},
{"f":"temp_std","x":-0.44,"j":0.04,"c":0.1},{"f":"temp_std","x":-0.44,"j":-0.14,"c":0.05},{"f":"temp_std","x":-0.44,"j":0.18,"c":0.9},{"f":"temp_std","x":-0.44,"j":-0.24,"c":0.05},
{"f":"temp_std","x":-0.38,"j":-0.02,"c":0.95},{"f":"temp_std","x":-0.38,"j":0.14,"c":0.05},{"f":"temp_std","x":-0.38,"j":-0.2,"c":0.1},{"f":"temp_std","x":-0.38,"j":0.26,"c":0.05},
{"f":"temp_std","x":-0.32,"j":0.06,"c":0.05},{"f":"temp_std","x":-0.32,"j":-0.12,"c":0.9},{"f":"temp_std","x":-0.32,"j":0.22,"c":0.05},{"f":"temp_std","x":-0.32,"j":-0.26,"c":0.1},{"f":"temp_std","x":-0.32,"j":0.32,"c":0.05},
{"f":"temp_std","x":-0.26,"j":-0.04,"c":0.1},{"f":"temp_std","x":-0.26,"j":0.14,"c":0.05},{"f":"temp_std","x":-0.26,"j":-0.2,"c":0.5},{"f":"temp_std","x":-0.26,"j":0.28,"c":0.05},
{"f":"temp_std","x":-0.2,"j":0.02,"c":0.05},{"f":"temp_std","x":-0.2,"j":-0.16,"c":0.92},{"f":"temp_std","x":-0.2,"j":0.2,"c":0.1},{"f":"temp_std","x":-0.2,"j":-0.3,"c":0.05},
{"f":"temp_std","x":-0.14,"j":-0.06,"c":0.9},{"f":"temp_std","x":-0.14,"j":0.12,"c":0.05},{"f":"temp_std","x":-0.14,"j":-0.22,"c":0.05},{"f":"temp_std","x":-0.14,"j":0.26,"c":0.1},{"f":"temp_std","x":-0.14,"j":0.36,"c":0.05},
{"f":"temp_std","x":-0.08,"j":0.04,"c":0.05},{"f":"temp_std","x":-0.08,"j":-0.14,"c":0.1},{"f":"temp_std","x":-0.08,"j":0.18,"c":0.92},{"f":"temp_std","x":-0.08,"j":-0.28,"c":0.05},{"f":"temp_std","x":-0.08,"j":0.3,"c":null},
{"f":"temp_std","x":-0.02,"j":-0.02,"c":0.1},{"f":"temp_std","x":-0.02,"j":0.16,"c":0.05},{"f":"temp_std","x":-0.02,"j":-0.18,"c":0.5},{"f":"temp_std","x":-0.02,"j":0.28,"c":null},
{"f":"temp_std","x":0.04,"j":0.04,"c":0.05},{"f":"temp_std","x":0.04,"j":-0.14,"c":0.9},{"f":"temp_std","x":0.04,"j":0.2,"c":0.1},{"f":"temp_std","x":0.04,"j":-0.26,"c":0.05},
{"f":"temp_std","x":0.1,"j":-0.04,"c":0.5},{"f":"temp_std","x":0.1,"j":0.12,"c":0.05},{"f":"temp_std","x":0.1,"j":-0.18,"c":0.92},{"f":"temp_std","x":0.1,"j":0.26,"c":0.1},
{"f":"temp_std","x":0.16,"j":0.02,"c":0.05},{"f":"temp_std","x":0.16,"j":-0.14,"c":0.1},{"f":"temp_std","x":0.16,"j":0.18,"c":0.9},
{"f":"temp_std","x":0.22,"j":-0.04,"c":0.05},{"f":"temp_std","x":0.22,"j":0.12,"c":0.55},{"f":"temp_std","x":0.22,"j":-0.22,"c":0.05},{"f":"temp_std","x":0.22,"j":0.26,"c":0.9},
{"f":"temp_std","x":0.28,"j":0.04,"c":0.5},{"f":"temp_std","x":0.28,"j":-0.12,"c":0.05},{"f":"temp_std","x":0.28,"j":0.16,"c":0.1},
{"f":"temp_std","x":0.34,"j":-0.02,"c":0.45},{"f":"temp_std","x":0.34,"j":0.12,"c":0.05},{"f":"temp_std","x":0.4,"j":0.04,"c":0.5},{"f":"temp_std","x":0.4,"j":-0.08,"c":0.1},
{"f":"temp_std","x":0.46,"j":-0.02,"c":0.05},{"f":"temp_std","x":0.46,"j":0.08,"c":0.45},{"f":"temp_std","x":0.52,"j":0.02,"c":0.5},{"f":"temp_std","x":0.52,"j":-0.06,"c":0.1},
{"f":"temp_std","x":0.58,"j":0.02,"c":0.05},{"f":"temp_std","x":0.58,"j":0.1,"c":0.5},{"f":"temp_std","x":0.64,"j":-0.02,"c":0.45},{"f":"temp_std","x":0.7,"j":0.02,"c":0.05},
{"f":"temp_std","x":0.76,"j":0,"c":0.5},{"f":"temp_std","x":0.82,"j":0.02,"c":0.05},{"f":"temp_std","x":0.88,"j":0,"c":0.45},{"f":"temp_std","x":0.94,"j":0,"c":0.05},{"f":"temp_std","x":1.0,"j":0,"c":0.5},{"f":"temp_std","x":1.06,"j":0,"c":0.45},{"f":"temp_std","x":1.12,"j":0,"c":0.05},{"f":"temp_std","x":1.18,"j":0,"c":0.05},{"f":"temp_std","x":1.28,"j":0,"c":0.05},

{"f":"HRV_RMSSD","x":-0.75,"j":0,"c":0.05},{"f":"HRV_RMSSD","x":-0.72,"j":0.02,"c":0.1},{"f":"HRV_RMSSD","x":-0.68,"j":-0.02,"c":0.2},{"f":"HRV_RMSSD","x":-0.64,"j":0.03,"c":0.05},{"f":"HRV_RMSSD","x":-0.6,"j":-0.03,"c":0.3},{"f":"HRV_RMSSD","x":-0.56,"j":0.04,"c":0.05},{"f":"HRV_RMSSD","x":-0.52,"j":-0.04,"c":0.2},{"f":"HRV_RMSSD","x":-0.48,"j":0.05,"c":0.3},
{"f":"HRV_RMSSD","x":-0.44,"j":-0.02,"c":0.05},{"f":"HRV_RMSSD","x":-0.44,"j":0.12,"c":0.3},{"f":"HRV_RMSSD","x":-0.44,"j":-0.14,"c":0.1},
{"f":"HRV_RMSSD","x":-0.38,"j":0.04,"c":0.25},{"f":"HRV_RMSSD","x":-0.38,"j":-0.12,"c":0.05},{"f":"HRV_RMSSD","x":-0.38,"j":0.16,"c":0.3},{"f":"HRV_RMSSD","x":-0.38,"j":-0.22,"c":0.1},
{"f":"HRV_RMSSD","x":-0.32,"j":-0.04,"c":0.05},{"f":"HRV_RMSSD","x":-0.32,"j":0.14,"c":0.2},{"f":"HRV_RMSSD","x":-0.32,"j":-0.18,"c":0.35},{"f":"HRV_RMSSD","x":-0.32,"j":0.24,"c":0.05},
{"f":"HRV_RMSSD","x":-0.26,"j":0.02,"c":0.3},{"f":"HRV_RMSSD","x":-0.26,"j":-0.16,"c":0.05},{"f":"HRV_RMSSD","x":-0.26,"j":0.18,"c":0.1},{"f":"HRV_RMSSD","x":-0.26,"j":-0.28,"c":0.25},
{"f":"HRV_RMSSD","x":-0.2,"j":-0.06,"c":0.05},{"f":"HRV_RMSSD","x":-0.2,"j":0.12,"c":0.3},{"f":"HRV_RMSSD","x":-0.2,"j":-0.22,"c":0.1},{"f":"HRV_RMSSD","x":-0.2,"j":0.26,"c":null},{"f":"HRV_RMSSD","x":-0.2,"j":-0.34,"c":0.05},
{"f":"HRV_RMSSD","x":-0.14,"j":0.04,"c":0.2},{"f":"HRV_RMSSD","x":-0.14,"j":-0.14,"c":0.05},{"f":"HRV_RMSSD","x":-0.14,"j":0.2,"c":null},{"f":"HRV_RMSSD","x":-0.14,"j":-0.28,"c":0.3},{"f":"HRV_RMSSD","x":-0.14,"j":0.3,"c":0.05},
{"f":"HRV_RMSSD","x":-0.08,"j":-0.02,"c":0.05},{"f":"HRV_RMSSD","x":-0.08,"j":0.16,"c":null},{"f":"HRV_RMSSD","x":-0.08,"j":-0.2,"c":0.25},{"f":"HRV_RMSSD","x":-0.08,"j":0.28,"c":0.1},
{"f":"HRV_RMSSD","x":-0.02,"j":0.04,"c":0.3},{"f":"HRV_RMSSD","x":-0.02,"j":-0.14,"c":0.05},{"f":"HRV_RMSSD","x":-0.02,"j":0.2,"c":null},{"f":"HRV_RMSSD","x":-0.02,"j":-0.26,"c":0.1},
{"f":"HRV_RMSSD","x":0.04,"j":-0.04,"c":0.92},{"f":"HRV_RMSSD","x":0.04,"j":0.12,"c":0.05},{"f":"HRV_RMSSD","x":0.04,"j":-0.18,"c":0.1},{"f":"HRV_RMSSD","x":0.04,"j":0.2,"c":0.55},
{"f":"HRV_RMSSD","x":0.1,"j":0.02,"c":0.6},{"f":"HRV_RMSSD","x":0.1,"j":-0.14,"c":0.05},{"f":"HRV_RMSSD","x":0.1,"j":0.16,"c":0.9},
{"f":"HRV_RMSSD","x":0.16,"j":-0.04,"c":0.5},{"f":"HRV_RMSSD","x":0.16,"j":0.1,"c":0.95},{"f":"HRV_RMSSD","x":0.16,"j":-0.16,"c":0.6},
{"f":"HRV_RMSSD","x":0.22,"j":0.04,"c":0.9},{"f":"HRV_RMSSD","x":0.22,"j":-0.1,"c":0.55},{"f":"HRV_RMSSD","x":0.22,"j":0.14,"c":0.5},
{"f":"HRV_RMSSD","x":0.28,"j":-0.02,"c":0.6},{"f":"HRV_RMSSD","x":0.28,"j":0.1,"c":0.5},{"f":"HRV_RMSSD","x":0.28,"j":-0.12,"c":0.92},
{"f":"HRV_RMSSD","x":0.34,"j":0.04,"c":0.5},{"f":"HRV_RMSSD","x":0.34,"j":-0.08,"c":0.55},{"f":"HRV_RMSSD","x":0.4,"j":-0.04,"c":0.55},{"f":"HRV_RMSSD","x":0.4,"j":0.08,"c":0.5},
{"f":"HRV_RMSSD","x":0.46,"j":0.02,"c":0.5},{"f":"HRV_RMSSD","x":0.46,"j":-0.08,"c":0.6},{"f":"HRV_RMSSD","x":0.52,"j":0,"c":0.55},{"f":"HRV_RMSSD","x":0.52,"j":0.08,"c":0.5},
{"f":"HRV_RMSSD","x":0.58,"j":0,"c":0.5},{"f":"HRV_RMSSD","x":0.64,"j":0.02,"c":0.55},{"f":"HRV_RMSSD","x":0.7,"j":0,"c":0.5},{"f":"HRV_RMSSD","x":0.82,"j":0,"c":0.5},{"f":"HRV_RMSSD","x":0.86,"j":0,"c":0.5},

{"f":"HRV_SDSD","x":-1.79,"j":0,"c":0.92},{"f":"HRV_SDSD","x":-1.66,"j":0,"c":0.95},{"f":"HRV_SDSD","x":-1.57,"j":0,"c":0.9},{"f":"HRV_SDSD","x":-1.28,"j":0,"c":0.92},{"f":"HRV_SDSD","x":-1.2,"j":0,"c":0.95},{"f":"HRV_SDSD","x":-1.16,"j":0.02,"c":0.9},{"f":"HRV_SDSD","x":-1.0,"j":0,"c":0.92},{"f":"HRV_SDSD","x":-0.92,"j":0,"c":0.95},{"f":"HRV_SDSD","x":-0.88,"j":0.02,"c":0.9},{"f":"HRV_SDSD","x":-0.84,"j":-0.02,"c":0.95},{"f":"HRV_SDSD","x":-0.8,"j":0,"c":0.92},{"f":"HRV_SDSD","x":-0.76,"j":0.02,"c":0.95},{"f":"HRV_SDSD","x":-0.72,"j":-0.02,"c":0.9},{"f":"HRV_SDSD","x":-0.68,"j":0,"c":0.95},{"f":"HRV_SDSD","x":-0.64,"j":0.03,"c":0.92},{"f":"HRV_SDSD","x":-0.6,"j":-0.02,"c":0.9},{"f":"HRV_SDSD","x":-0.56,"j":0.02,"c":0.95},{"f":"HRV_SDSD","x":-0.52,"j":-0.03,"c":0.92},{"f":"HRV_SDSD","x":-0.48,"j":0.03,"c":0.9},{"f":"HRV_SDSD","x":-0.44,"j":-0.02,"c":0.05},{"f":"HRV_SDSD","x":-0.4,"j":0.03,"c":0.5},
{"f":"HRV_SDSD","x":-0.36,"j":-0.04,"c":null},{"f":"HRV_SDSD","x":-0.36,"j":0.1,"c":0.5},
{"f":"HRV_SDSD","x":-0.3,"j":0.04,"c":0.55},{"f":"HRV_SDSD","x":-0.3,"j":-0.12,"c":0.92},{"f":"HRV_SDSD","x":-0.3,"j":0.14,"c":null},
{"f":"HRV_SDSD","x":-0.24,"j":-0.02,"c":null},{"f":"HRV_SDSD","x":-0.24,"j":0.12,"c":0.5},{"f":"HRV_SDSD","x":-0.24,"j":-0.16,"c":0.55},
{"f":"HRV_SDSD","x":-0.18,"j":0.04,"c":0.5},{"f":"HRV_SDSD","x":-0.18,"j":-0.14,"c":null},{"f":"HRV_SDSD","x":-0.18,"j":0.16,"c":0.6},
{"f":"HRV_SDSD","x":-0.12,"j":-0.04,"c":0.3},{"f":"HRV_SDSD","x":-0.12,"j":0.12,"c":0.5},{"f":"HRV_SDSD","x":-0.12,"j":-0.18,"c":0.55},{"f":"HRV_SDSD","x":-0.12,"j":0.22,"c":null},
{"f":"HRV_SDSD","x":-0.06,"j":0.02,"c":0.55},{"f":"HRV_SDSD","x":-0.06,"j":-0.14,"c":null},{"f":"HRV_SDSD","x":-0.06,"j":0.18,"c":0.5},
{"f":"HRV_SDSD","x":0.02,"j":-0.28,"c":0.05},{"f":"HRV_SDSD","x":0.02,"j":-0.16,"c":0.1},{"f":"HRV_SDSD","x":0.02,"j":-0.04,"c":0.05},{"f":"HRV_SDSD","x":0.02,"j":0.08,"c":0.3},{"f":"HRV_SDSD","x":0.02,"j":0.2,"c":0.05},{"f":"HRV_SDSD","x":0.02,"j":0.32,"c":0.1},
{"f":"HRV_SDSD","x":0.08,"j":-0.22,"c":0.05},{"f":"HRV_SDSD","x":0.08,"j":-0.1,"c":0.3},{"f":"HRV_SDSD","x":0.08,"j":0.02,"c":0.1},{"f":"HRV_SDSD","x":0.08,"j":0.14,"c":0.05},{"f":"HRV_SDSD","x":0.08,"j":0.26,"c":0.25},
{"f":"HRV_SDSD","x":0.14,"j":-0.16,"c":0.1},{"f":"HRV_SDSD","x":0.14,"j":-0.04,"c":0.05},{"f":"HRV_SDSD","x":0.14,"j":0.08,"c":0.3},{"f":"HRV_SDSD","x":0.14,"j":0.2,"c":0.05},
{"f":"HRV_SDSD","x":0.2,"j":-0.1,"c":0.3},{"f":"HRV_SDSD","x":0.2,"j":0.02,"c":0.05},{"f":"HRV_SDSD","x":0.2,"j":0.14,"c":0.35},
{"f":"HRV_SDSD","x":0.26,"j":-0.06,"c":0.05},{"f":"HRV_SDSD","x":0.26,"j":0.08,"c":0.4},{"f":"HRV_SDSD","x":0.26,"j":-0.16,"c":0.3},
{"f":"HRV_SDSD","x":0.32,"j":0.02,"c":0.45},{"f":"HRV_SDSD","x":0.32,"j":-0.1,"c":0.05},{"f":"HRV_SDSD","x":0.32,"j":0.12,"c":0.3},
{"f":"HRV_SDSD","x":0.38,"j":-0.04,"c":0.35},{"f":"HRV_SDSD","x":0.38,"j":0.08,"c":0.5},{"f":"HRV_SDSD","x":0.44,"j":0.04,"c":0.5},{"f":"HRV_SDSD","x":0.44,"j":-0.06,"c":0.3},
{"f":"HRV_SDSD","x":0.5,"j":-0.02,"c":0.05},{"f":"HRV_SDSD","x":0.5,"j":0.06,"c":0.45},{"f":"HRV_SDSD","x":0.56,"j":0.02,"c":0.5},{"f":"HRV_SDSD","x":0.62,"j":0,"c":0.45},{"f":"HRV_SDSD","x":0.69,"j":0,"c":0.5},

{"f":"HRV_MeanNN","x":-0.65,"j":0,"c":0.5},{"f":"HRV_MeanNN","x":-0.62,"j":0.03,"c":0.92},{"f":"HRV_MeanNN","x":-0.6,"j":-0.04,"c":0.3},
{"f":"HRV_MeanNN","x":-0.56,"j":0.04,"c":0.5},{"f":"HRV_MeanNN","x":-0.56,"j":-0.1,"c":null},
{"f":"HRV_MeanNN","x":-0.5,"j":-0.04,"c":0.55},{"f":"HRV_MeanNN","x":-0.5,"j":0.1,"c":0.3},{"f":"HRV_MeanNN","x":-0.5,"j":-0.14,"c":0.9},
{"f":"HRV_MeanNN","x":-0.44,"j":0.04,"c":0.05},{"f":"HRV_MeanNN","x":-0.44,"j":-0.12,"c":0.5},{"f":"HRV_MeanNN","x":-0.44,"j":0.14,"c":null},
{"f":"HRV_MeanNN","x":-0.38,"j":-0.02,"c":0.9},{"f":"HRV_MeanNN","x":-0.38,"j":0.12,"c":0.55},{"f":"HRV_MeanNN","x":-0.38,"j":-0.16,"c":0.3},
{"f":"HRV_MeanNN","x":-0.32,"j":0.06,"c":0.05},{"f":"HRV_MeanNN","x":-0.32,"j":-0.1,"c":0.5},{"f":"HRV_MeanNN","x":-0.32,"j":0.16,"c":null},
{"f":"HRV_MeanNN","x":-0.26,"j":-0.04,"c":0.5},{"f":"HRV_MeanNN","x":-0.26,"j":0.12,"c":0.9},{"f":"HRV_MeanNN","x":-0.26,"j":-0.18,"c":0.05},{"f":"HRV_MeanNN","x":-0.26,"j":0.2,"c":null},
{"f":"HRV_MeanNN","x":-0.2,"j":0.02,"c":null},{"f":"HRV_MeanNN","x":-0.2,"j":-0.14,"c":0.3},{"f":"HRV_MeanNN","x":-0.2,"j":0.16,"c":0.55},
{"f":"HRV_MeanNN","x":-0.14,"j":-0.06,"c":0.05},{"f":"HRV_MeanNN","x":-0.14,"j":0.1,"c":0.5},{"f":"HRV_MeanNN","x":-0.14,"j":-0.2,"c":0.92},{"f":"HRV_MeanNN","x":-0.14,"j":0.22,"c":0.3},
{"f":"HRV_MeanNN","x":-0.08,"j":0.04,"c":0.55},{"f":"HRV_MeanNN","x":-0.08,"j":-0.12,"c":null},{"f":"HRV_MeanNN","x":-0.08,"j":0.16,"c":0.05},
{"f":"HRV_MeanNN","x":-0.02,"j":-0.02,"c":0.9},{"f":"HRV_MeanNN","x":-0.02,"j":0.12,"c":0.3},{"f":"HRV_MeanNN","x":-0.02,"j":-0.18,"c":0.5},
{"f":"HRV_MeanNN","x":0.04,"j":0.04,"c":0.05},{"f":"HRV_MeanNN","x":0.04,"j":-0.14,"c":0.9},{"f":"HRV_MeanNN","x":0.04,"j":0.16,"c":0.5},{"f":"HRV_MeanNN","x":0.04,"j":-0.24,"c":0.95},
{"f":"HRV_MeanNN","x":0.1,"j":-0.04,"c":0.3},{"f":"HRV_MeanNN","x":0.1,"j":0.12,"c":0.05},{"f":"HRV_MeanNN","x":0.1,"j":-0.16,"c":0.55},{"f":"HRV_MeanNN","x":0.1,"j":0.22,"c":0.5},
{"f":"HRV_MeanNN","x":0.16,"j":0.02,"c":0.92},{"f":"HRV_MeanNN","x":0.16,"j":-0.12,"c":0.05},{"f":"HRV_MeanNN","x":0.16,"j":0.14,"c":0.3},
{"f":"HRV_MeanNN","x":0.22,"j":-0.04,"c":0.5},{"f":"HRV_MeanNN","x":0.22,"j":0.1,"c":0.05},{"f":"HRV_MeanNN","x":0.22,"j":-0.14,"c":0.9},
{"f":"HRV_MeanNN","x":0.28,"j":0.04,"c":0.3},{"f":"HRV_MeanNN","x":0.28,"j":-0.1,"c":0.05},{"f":"HRV_MeanNN","x":0.28,"j":0.14,"c":0.92},
{"f":"HRV_MeanNN","x":0.34,"j":-0.02,"c":0.05},{"f":"HRV_MeanNN","x":0.34,"j":0.1,"c":0.5},{"f":"HRV_MeanNN","x":0.4,"j":0.02,"c":0.92},{"f":"HRV_MeanNN","x":0.4,"j":-0.08,"c":0.05},{"f":"HRV_MeanNN","x":0.4,"j":0.1,"c":0.9},
{"f":"HRV_MeanNN","x":0.46,"j":-0.02,"c":0.95},{"f":"HRV_MeanNN","x":0.46,"j":0.06,"c":0.05},{"f":"HRV_MeanNN","x":0.52,"j":0,"c":0.9},
{"f":"HRV_MeanNN","x":0.63,"j":0,"c":0.95},{"f":"HRV_MeanNN","x":0.76,"j":0,"c":0.92},{"f":"HRV_MeanNN","x":0.84,"j":0,"c":null},{"f":"HRV_MeanNN","x":0.91,"j":0,"c":0.8},

{"f":"temp_mean","x":-0.83,"j":0,"c":0.95},{"f":"temp_mean","x":-0.76,"j":0,"c":0.92},{"f":"temp_mean","x":-0.72,"j":0.03,"c":0.95},{"f":"temp_mean","x":-0.63,"j":0,"c":0.9},{"f":"temp_mean","x":-0.55,"j":0,"c":0.95},{"f":"temp_mean","x":-0.52,"j":0.02,"c":0.92},{"f":"temp_mean","x":-0.48,"j":-0.02,"c":0.9},{"f":"temp_mean","x":-0.44,"j":0.03,"c":0.95},{"f":"temp_mean","x":-0.4,"j":-0.03,"c":0.6},
{"f":"temp_mean","x":-0.36,"j":0.04,"c":0.92},{"f":"temp_mean","x":-0.36,"j":-0.1,"c":0.95},{"f":"temp_mean","x":-0.36,"j":0.12,"c":0.6},
{"f":"temp_mean","x":-0.3,"j":-0.04,"c":0.9},{"f":"temp_mean","x":-0.3,"j":0.1,"c":0.95},{"f":"temp_mean","x":-0.3,"j":-0.16,"c":0.92},{"f":"temp_mean","x":-0.3,"j":0.18,"c":0.5},
{"f":"temp_mean","x":-0.24,"j":0.02,"c":0.95},{"f":"temp_mean","x":-0.24,"j":-0.14,"c":0.6},{"f":"temp_mean","x":-0.24,"j":0.16,"c":0.92},{"f":"temp_mean","x":-0.24,"j":-0.24,"c":0.9},
{"f":"temp_mean","x":-0.18,"j":-0.06,"c":0.9},{"f":"temp_mean","x":-0.18,"j":0.12,"c":0.95},{"f":"temp_mean","x":-0.18,"j":-0.2,"c":0.5},{"f":"temp_mean","x":-0.18,"j":0.24,"c":0.92},
{"f":"temp_mean","x":-0.12,"j":0.04,"c":0.92},{"f":"temp_mean","x":-0.12,"j":-0.14,"c":0.6},{"f":"temp_mean","x":-0.12,"j":0.18,"c":0.95},{"f":"temp_mean","x":-0.12,"j":-0.26,"c":0.9},
{"f":"temp_mean","x":-0.06,"j":-0.02,"c":0.95},{"f":"temp_mean","x":-0.06,"j":0.16,"c":0.9},{"f":"temp_mean","x":-0.06,"j":-0.18,"c":0.92},{"f":"temp_mean","x":-0.06,"j":0.28,"c":0.55},
{"f":"temp_mean","x":0,"j":0.04,"c":0.6},{"f":"temp_mean","x":0,"j":-0.14,"c":0.92},{"f":"temp_mean","x":0,"j":0.2,"c":0.95},{"f":"temp_mean","x":0,"j":-0.24,"c":0.9},
{"f":"temp_mean","x":0.06,"j":-0.04,"c":0.9},{"f":"temp_mean","x":0.06,"j":0.12,"c":0.95},{"f":"temp_mean","x":0.06,"j":-0.2,"c":0.92},{"f":"temp_mean","x":0.06,"j":0.26,"c":0.6},
{"f":"temp_mean","x":0.12,"j":0.02,"c":0.95},{"f":"temp_mean","x":0.12,"j":-0.16,"c":0.9},{"f":"temp_mean","x":0.12,"j":0.16,"c":0.5},{"f":"temp_mean","x":0.12,"j":-0.28,"c":0.92},
{"f":"temp_mean","x":0.18,"j":-0.06,"c":0.92},{"f":"temp_mean","x":0.18,"j":0.1,"c":0.55},{"f":"temp_mean","x":0.18,"j":-0.2,"c":0.95},{"f":"temp_mean","x":0.18,"j":0.22,"c":0.05},
{"f":"temp_mean","x":0.24,"j":0.04,"c":0.05},{"f":"temp_mean","x":0.24,"j":-0.12,"c":0.92},{"f":"temp_mean","x":0.24,"j":0.16,"c":0.6},
{"f":"temp_mean","x":0.3,"j":-0.02,"c":0.95},{"f":"temp_mean","x":0.3,"j":0.12,"c":0.05},{"f":"temp_mean","x":0.3,"j":-0.14,"c":0.9},
{"f":"temp_mean","x":0.36,"j":0.04,"c":0.1},{"f":"temp_mean","x":0.36,"j":-0.1,"c":0.55},{"f":"temp_mean","x":0.42,"j":-0.02,"c":0.05},{"f":"temp_mean","x":0.42,"j":0.08,"c":0.9},{"f":"temp_mean","x":0.47,"j":0.02,"c":0.1},
{"f":"temp_mean","x":0.97,"j":0,"c":0.95},{"f":"temp_mean","x":1.0,"j":0,"c":0.92},{"f":"temp_mean","x":1.22,"j":0,"c":0.95},{"f":"temp_mean","x":1.26,"j":0,"c":0.95},

{"f":"HRV_SDNN","x":-0.56,"j":0,"c":0.05},{"f":"HRV_SDNN","x":-0.5,"j":0,"c":0.3},{"f":"HRV_SDNN","x":-0.47,"j":0.02,"c":0.5},{"f":"HRV_SDNN","x":-0.44,"j":-0.02,"c":0.4},{"f":"HRV_SDNN","x":-0.41,"j":0.03,"c":0.55},
{"f":"HRV_SDNN","x":-0.36,"j":-0.04,"c":0.3},{"f":"HRV_SDNN","x":-0.36,"j":0.08,"c":0.05},
{"f":"HRV_SDNN","x":-0.3,"j":0.04,"c":0.5},{"f":"HRV_SDNN","x":-0.3,"j":-0.1,"c":0.05},{"f":"HRV_SDNN","x":-0.3,"j":0.12,"c":0.9},
{"f":"HRV_SDNN","x":-0.24,"j":-0.02,"c":0.3},{"f":"HRV_SDNN","x":-0.24,"j":0.1,"c":0.55},{"f":"HRV_SDNN","x":-0.24,"j":-0.14,"c":0.05},
{"f":"HRV_SDNN","x":-0.18,"j":0.04,"c":0.92},{"f":"HRV_SDNN","x":-0.18,"j":-0.12,"c":0.05},{"f":"HRV_SDNN","x":-0.18,"j":0.16,"c":0.5},{"f":"HRV_SDNN","x":-0.18,"j":-0.2,"c":0.3},
{"f":"HRV_SDNN","x":-0.12,"j":-0.04,"c":0.05},{"f":"HRV_SDNN","x":-0.12,"j":0.12,"c":0.9},{"f":"HRV_SDNN","x":-0.12,"j":-0.18,"c":0.3},{"f":"HRV_SDNN","x":-0.12,"j":0.22,"c":0.5},
{"f":"HRV_SDNN","x":-0.06,"j":0.02,"c":0.5},{"f":"HRV_SDNN","x":-0.06,"j":-0.14,"c":0.05},{"f":"HRV_SDNN","x":-0.06,"j":0.18,"c":0.92},{"f":"HRV_SDNN","x":-0.06,"j":-0.26,"c":0.3},{"f":"HRV_SDNN","x":-0.06,"j":0.28,"c":0.55},
{"f":"HRV_SDNN","x":0,"j":-0.06,"c":0.9},{"f":"HRV_SDNN","x":0,"j":0.1,"c":0.05},{"f":"HRV_SDNN","x":0,"j":-0.2,"c":0.95},{"f":"HRV_SDNN","x":0,"j":0.22,"c":0.3},{"f":"HRV_SDNN","x":0,"j":-0.34,"c":null},{"f":"HRV_SDNN","x":0,"j":0.34,"c":0.5},
{"f":"HRV_SDNN","x":0.06,"j":0.04,"c":0.05},{"f":"HRV_SDNN","x":0.06,"j":-0.12,"c":0.5},{"f":"HRV_SDNN","x":0.06,"j":0.16,"c":0.3},{"f":"HRV_SDNN","x":0.06,"j":-0.24,"c":0.9},{"f":"HRV_SDNN","x":0.06,"j":0.28,"c":0.05},
{"f":"HRV_SDNN","x":0.12,"j":-0.02,"c":0.3},{"f":"HRV_SDNN","x":0.12,"j":0.12,"c":0.05},{"f":"HRV_SDNN","x":0.12,"j":-0.16,"c":0.92},
{"f":"HRV_SDNN","x":0.18,"j":0.04,"c":0.05},{"f":"HRV_SDNN","x":0.18,"j":-0.1,"c":0.5},{"f":"HRV_SDNN","x":0.18,"j":0.14,"c":0.3},
{"f":"HRV_SDNN","x":0.24,"j":-0.02,"c":0.55},{"f":"HRV_SDNN","x":0.24,"j":0.1,"c":0.05},{"f":"HRV_SDNN","x":0.3,"j":0.02,"c":0.3},{"f":"HRV_SDNN","x":0.3,"j":-0.08,"c":0.05},
{"f":"HRV_SDNN","x":0.36,"j":-0.02,"c":0.05},{"f":"HRV_SDNN","x":0.36,"j":0.08,"c":0.3},{"f":"HRV_SDNN","x":0.42,"j":0.02,"c":0.05},{"f":"HRV_SDNN","x":0.46,"j":-0.04,"c":0.5},{"f":"HRV_SDNN","x":0.46,"j":0.06,"c":0.05},
{"f":"HRV_SDNN","x":0.52,"j":0,"c":0.3},{"f":"HRV_SDNN","x":0.58,"j":0,"c":0.05},{"f":"HRV_SDNN","x":0.65,"j":0,"c":0.05},{"f":"HRV_SDNN","x":0.69,"j":0,"c":0.05},{"f":"HRV_SDNN","x":0.73,"j":0,"c":0.05},{"f":"HRV_SDNN","x":1.18,"j":0,"c":0.05}
]},
"encoding":{
  "x":{"field":"x","type":"quantitative","scale":{"domain":[-2.81,2.56],"nice":false,"zero":false},
   "axis":{"values":[-2.8,-2.6,-2.4,-2.2,-2,-1.8,-1.6,-1.4,-1.2,-1,-0.8,-0.6,-0.4,-0.2,0,0.2,0.4,0.6,0.8,1,1.2,1.4,1.6,1.8,2,2.2,2.4],
    "labelExpr":"abs(datum.value - round(datum.value)) < 0.01 ? format(datum.value, 'd') : ''",
    "labelOverlap":false,"labelBound":false,"labelFlush":false,
    "tickSize":{"condition":{"test":"abs(datum.value - round(datum.value)) < 0.01","value":-4},"value":-2},
    "grid":false,"domainColor":"#333","tickColor":"#333","labelColor":"#444","labelFontSize":11,"labelPadding":3,
    "title":"SHAP value (impact on model output)","titleFontSize":22,"titleFontWeight":"normal","titleColor":"#222","titlePadding":5,"labelFont":"Liberation Serif","titleFont":"Liberation Serif"}}
},
"layer":[
{"transform":[{"filter":"datum.c == null"}],
 "mark":{"type":"point","filled":true,"size":36,"opacity":1,"color":"#777777"},
 "encoding":{
  "y":{"field":"f","type":"nominal","sort":["pupil_skew","temp_min","pupil_mean","pupil_max","pupil_min","temp_max","temp_std","HRV_RMSSD","HRV_SDSD","HRV_MeanNN","temp_mean","HRV_SDNN"],
   "scale":{"type":"band","paddingInner":0,"paddingOuter":0.5},
   "axis":{"title":null,"domain":false,"ticks":false,"labelFontSize":18,"labelColor":"#333","labelPadding":4,"labelFont":"Liberation Serif","grid":true,"bandPosition":0.5,"gridDash":[1,3],"gridColor":"#bbb","gridWidth":1}},
  "yOffset":{"field":"j","type":"quantitative","scale":{"domain":[-0.5,0.5]}}
 }},
{"transform":[{"filter":"datum.c != null"}],
 "mark":{"type":"point","filled":true,"size":36,"opacity":1},
 "encoding":{
  "y":{"field":"f","type":"nominal","sort":["pupil_skew","temp_min","pupil_mean","pupil_max","pupil_min","temp_max","temp_std","HRV_RMSSD","HRV_SDSD","HRV_MeanNN","temp_mean","HRV_SDNN"]},
  "yOffset":{"field":"j","type":"quantitative"},
  "color":{"field":"c","type":"quantitative","scale":{"domain":[0,0.25,0.5,0.75,1],"range":["#008bfb","#1f70e8","#8a44c6","#c8038f","#ff0052"],"interpolate":"rgb"},
   "legend":{"orient":"none","legendX":457,"legendY":-1,"direction":"vertical","gradientLength":457,"gradientThickness":6,"gradientStrokeWidth":0,"title":null,"values":[0,1],"labelExpr":"datum.value < 0.5 ? 'Low' : 'High'","labelFont":"Liberation Serif","labelFontSize":12,"labelColor":"#333","labelOffset":3,"labelBaseline":"middle"}}
 }},
{"data":{"values":[{"x":0}]},
 "mark":{"type":"rule","color":"#999999","strokeWidth":1.5}}
]
}
